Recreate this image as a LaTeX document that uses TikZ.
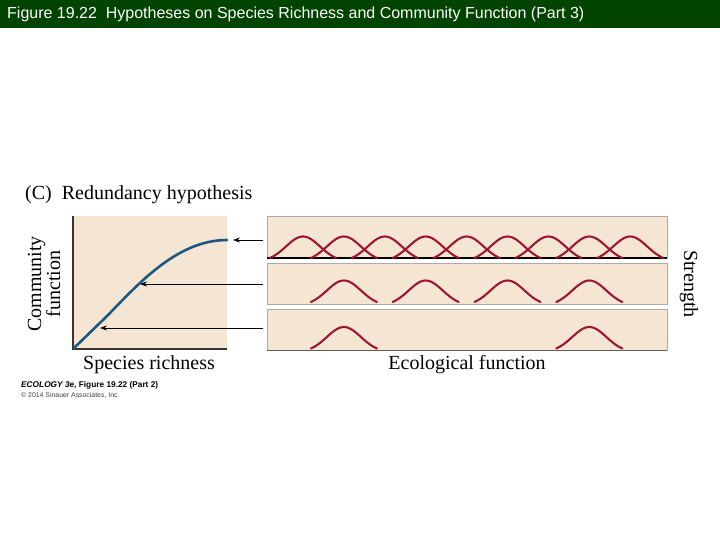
\documentclass[tikz,border=0pt]{standalone}
\usepackage{fontspec}
\setmainfont{Liberation Serif}
\setsansfont{Liberation Sans}
\usetikzlibrary{arrows.meta}
\definecolor{titlegreen}{RGB}{0,68,0}
\definecolor{beige}{RGB}{245,230,212}
\definecolor{bellred}{RGB}{158,22,52}
\definecolor{curveblue}{RGB}{30,88,128}
\definecolor{panelgray}{RGB}{175,170,165}
\definecolor{axisdark}{RGB}{60,50,50}
\tikzset{
  panel/.style={fill=beige, draw=panelgray, line width=0.8pt},
  bell/.style={draw=bellred, line width=2.1pt, line cap=round, smooth},
  pointer/.style={draw=black, line width=0.8pt, -{Stealth[length=7pt,width=5pt]}},
  axis/.style={draw=axisdark, line width=1.6pt},
  lbl/.style={font=\fontsize{20}{21}\selectfont, inner sep=0pt},
}
\newcommand{\bellat}[2]{%
  \draw[bell] plot[domain=-33:33, samples=41] ({#1+\x}, {#2-21*(exp(-\x*\x/578)-0.17)/0.83});}
\begin{document}
\begin{tikzpicture}[x=1pt, y=-1pt]
\useasboundingbox (0,0) rectangle (720,540);
% title bar
\fill[titlegreen] (0,0) rectangle (720,28.5);
\node[anchor=west, text=white, font=\sffamily\fontsize{16}{17}\selectfont, inner sep=0pt] (title) at (7,14) {Figure 19.22\ \ Hypotheses on Species Richness and Community Function (Part 3)};
% heading
\node[lbl, anchor=base west] (head) at (25,200) {(C)\ \ Redundancy hypothesis};
% left panel
\fill[beige] (73,216) rectangle (227,349);
\draw[axis] (73,216) -- (73,349) -- (227,349);
\draw[curveblue, line width=2.6pt, line cap=round] (74,348) -- (105,318) .. controls (135,288) and (175,240) .. (227,240);
\node[lbl, rotate=90, align=center] (cf) at (44,284) {Community\\[-2pt]function};
\node[lbl, anchor=base] (sr) at (149,369) {Species richness};
\node[anchor=west, inner sep=0pt, font=\sffamily\bfseries\fontsize{8.3}{9}\selectfont] (cap1) at (21,385.5) {\textit{ECOLOGY 3e}, Figure 19.22 (Part 2)};
\node[anchor=west, inner sep=0pt, font=\sffamily\fontsize{6.9}{7}\selectfont, text=black!75] (cap2) at (21,395.5) {© 2014 Sinauer Associates, Inc.};
% right panels
\draw[panel] (267,216.5) rectangle (667,258);
\draw[panel] (267,263) rectangle (667,304);
\draw[panel] (267,309) rectangle (667,350);
\draw[black, line width=1.4pt] (267,258) -- (667,258);
\draw[axisdark!80, line width=1pt] (267,350) -- (667,350);
\foreach \k in {0,...,8} { \bellat{303+40.9*\k}{257.5} }
\foreach \k in {1,3,5,7} { \bellat{303+40.9*\k}{301.5} }
\foreach \k in {1,7} { \bellat{303+40.9*\k}{348} }
\node[lbl, anchor=base] (ef) at (467,369) {Ecological function};
\node[lbl, rotate=-90] (st) at (689,284) {Strength};
% arrows
\coordinate (a1s) at (263,240); \coordinate (a1e) at (233,240);
\coordinate (a2s) at (263,284); \coordinate (a2e) at (140,284);
\coordinate (a3s) at (263,328); \coordinate (a3e) at (100,328);
\draw[pointer] (a1s) -- (a1e);
\draw[pointer] (a2s) -- (a2e);
\draw[pointer] (a3s) -- (a3e);
\end{tikzpicture}
\end{document}
